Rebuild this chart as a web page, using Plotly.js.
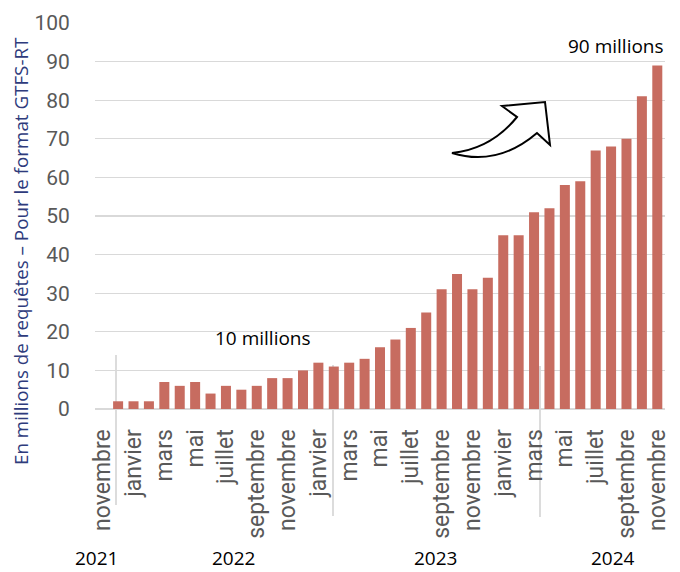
<!DOCTYPE html>
<html>
<head>
<meta charset="utf-8">
<script src="https://cdn.plot.ly/plotly-3.0.1.min.js"></script>
<style>html,body{margin:0;padding:0;background:#fff;}#chart{width:680px;height:572px;}</style>
</head>
<body>
<div id="chart"></div>
<script>
// ---- Data ----
const months = ['novembre','décembre',
  'janvier','février','mars','avril','mai','juin','juillet','août','septembre','octobre','novembre','décembre',
  'janvier','février','mars','avril','mai','juin','juillet','août','septembre','octobre','novembre','décembre',
  'janvier','février','mars','avril','mai','juin','juillet','août','septembre','octobre','novembre'];
const years = [2021,2021,
  2022,2022,2022,2022,2022,2022,2022,2022,2022,2022,2022,2022,
  2023,2023,2023,2023,2023,2023,2023,2023,2023,2023,2023,2023,
  2024,2024,2024,2024,2024,2024,2024,2024,2024,2024,2024];
const requests = [null,2,
  2,2,7,6,7,4,6,5,6,8,8,10,
  12,11,12,13,16,18,21,25,31,35,31,34,
  45,45,51,52,58,59,67,68,70,81,89];
const yearLabels = ['2021','2022','2023','2024'];
const yTicks = [0,10,20,30,40,50,60,70,80,90,100];
const yTitle = 'En millions de requêtes – Pour le format GTFS-RT';
const callouts = ['10 millions','90 millions'];

// ---- Layout helpers (pixel -> paper) ----
const M = {l:95, r:15, t:23, b:163};
const W = 680 - M.l - M.r, H = 572 - M.t - M.b;
const px = x => (x - M.l) / W;
const py = y => (572 - M.b - y) / H;
const P = (x, y) => px(x).toFixed(5) + ',' + py(y).toFixed(5);

const idx = months.map((m, i) => i);
const tickIdx = idx.filter(i => i % 2 === 0);

const trace = {
  type: 'bar',
  x: idx,
  y: requests,
  marker: {color: '#C76C60'},
  hoverinfo: 'skip'
};

const yearX = [96, 233, 435, 613];
const annotations = yearLabels.map((t, i) => ({
  text: t, xref: 'paper', yref: 'paper', x: px(yearX[i]), y: py(558),
  xanchor: 'center', yanchor: 'middle', showarrow: false,
  font: {family: 'Open Sans', size: 19, color: '#000'}
}));
annotations.push({
  text: callouts[0], xref: 'paper', yref: 'paper', x: px(263), y: py(338),
  xanchor: 'center', yanchor: 'middle', showarrow: false,
  font: {family: 'Open Sans', size: 19, color: '#000'}
});
annotations.push({
  text: callouts[1], xref: 'paper', yref: 'paper', x: px(616), y: py(46),
  xanchor: 'center', yanchor: 'middle', showarrow: false,
  font: {family: 'Open Sans', size: 19, color: '#000'}
});
annotations.push({
  text: yTitle, xref: 'paper', yref: 'paper', x: px(21), y: py(251),
  xanchor: 'center', yanchor: 'middle', showarrow: false, textangle: -90,
  font: {family: 'Open Sans', size: 18.8, color: '#2E3B7C'}
});

const sep = (x, y0, y1) => ({
  type: 'line', xref: 'paper', yref: 'paper', layer: 'below',
  x0: px(x), x1: px(x), y0: py(y0), y1: py(y1),
  line: {color: '#D0D0D0', width: 1.5}
});

const arrowPath = 'M' + P(452,153) + ' Q' + P(497,167) + ' ' + P(537,133) +
  ' L' + P(550,145) + ' L' + P(545,102) + ' L' + P(502,106) + ' L' + P(517,117) +
  ' Q' + P(491,149) + ' ' + P(452,153) + ' Z';

const layout = {
  width: 680, height: 572,
  margin: M,
  paper_bgcolor: '#fff', plot_bgcolor: '#fff',
  showlegend: false,
  bargap: 0.35,
  xaxis: {
    range: [-0.5, months.length - 0.5],
    tickmode: 'array',
    tickvals: tickIdx,
    ticktext: tickIdx.map(i => months[i]),
    tickangle: -90,
    tickfont: {family: 'Roboto', size: 23, color: '#595959'},
    ticks: 'outside', ticklen: 10, tickcolor: 'rgba(0,0,0,0)',
    showgrid: false, zeroline: false, showline: false
  },
  yaxis: {
    range: [0, 100],
    tickmode: 'array',
    tickvals: yTicks,
    tickfont: {family: 'Roboto', size: 21, color: '#595959'},
    ticks: 'outside', ticklen: 20, tickcolor: 'rgba(0,0,0,0)',
    showgrid: true, gridcolor: '#D9D9D9', gridwidth: 1.3,
    zeroline: true, zerolinecolor: '#D9D9D9', zerolinewidth: 1.3,
    showline: false
  },
  annotations: annotations,
  shapes: [
    sep(116, 355, 505),
    sep(333, 365, 516),
    sep(540, 366, 517),
    {type: 'path', xref: 'paper', yref: 'paper', path: arrowPath,
     fillcolor: '#fff', line: {color: '#000', width: 2}}
  ]
};

Plotly.newPlot('chart', [trace], layout, {displayModeBar: false, staticPlot: true});
</script>
</body>
</html>
